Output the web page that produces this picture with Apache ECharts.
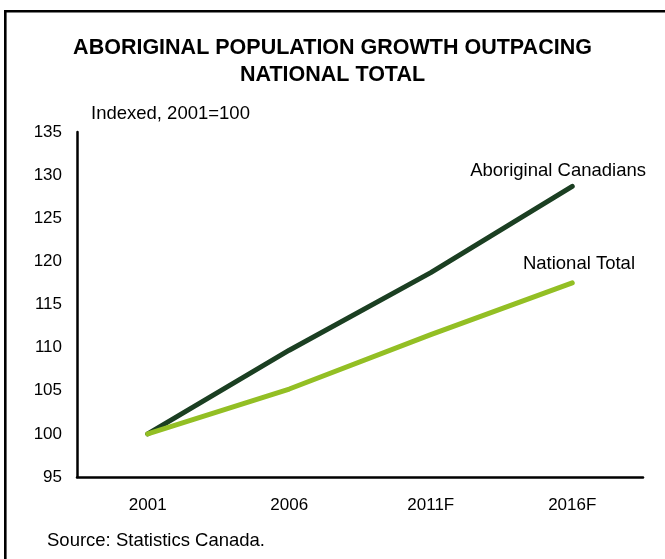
<!DOCTYPE html>
<html>
<head>
<meta charset="utf-8">
<script src="https://cdn.jsdelivr.net/npm/echarts@6/dist/echarts.min.js"></script>
<style>
html,body{margin:0;padding:0;background:#fff;}
#chart{width:665px;height:559px;}
</style>
</head>
<body>
<div id="chart"></div>
<script>
var categories = ['2001', '2006', '2011F', '2016F'];
var aboriginal = [100, 109.7, 118.7, 128.7];
var national = [100, 105.2, 111.5, 117.5];
var titleText = 'ABORIGINAL POPULATION GROWTH OUTPACING\nNATIONAL TOTAL';
var unitText = 'Indexed, 2001=100';
var sourceText = 'Source: Statistics Canada.';
var seriesNames = ['Aboriginal Canadians', 'National Total'];

var FONT = '"Liberation Sans", Arial, sans-serif';
var chart = echarts.init(document.getElementById('chart'));
chart.setOption({
  animation: false,
  backgroundColor: '#fff',
  title: {
    text: titleText,
    left: 'center', top: 30,
    textStyle: { fontFamily: FONT, fontWeight: 'bold', fontSize: 21.5, lineHeight: 27, color: '#000' }
  },
  grid: { left: 77, right: 22, top: 132, bottom: 82 },
  xAxis: {
    type: 'category', data: categories, boundaryGap: true,
    axisLine: { lineStyle: { color: '#000', width: 2.5 } },
    axisTick: { show: false },
    axisLabel: { color: '#000', fontFamily: FONT, fontSize: 17, margin: 20 },
    splitLine: { show: false }
  },
  yAxis: {
    type: 'value', min: 95, max: 135, interval: 5,
    axisLine: { show: true, lineStyle: { color: '#000', width: 2.5 } },
    axisTick: { show: false },
    axisLabel: { color: '#000', fontFamily: FONT, fontSize: 17, margin: 15 },
    splitLine: { show: false }
  },
  series: [
    { name: seriesNames[0], type: 'line', data: aboriginal, symbol: 'none',
      lineStyle: { color: '#1b3f22', width: 5, cap: 'round', join: 'round' } },
    { name: seriesNames[1], type: 'line', data: national, symbol: 'none',
      lineStyle: { color: '#93bf24', width: 5, cap: 'round', join: 'round' } }
  ],
  graphic: [
    { type: 'rect', shape: { x: 5.3, y: 11.3, width: 800, height: 800 },
      style: { fill: 'none', stroke: '#000', lineWidth: 2.6 }, silent: true },
    { type: 'text', x: 91, y: 114,
      style: { text: unitText, font: '18.5px ' + FONT, fill: '#000', textVerticalAlign: 'middle' } },
    { type: 'text', x: 47, y: 541,
      style: { text: sourceText, font: '18.5px ' + FONT, fill: '#000', textVerticalAlign: 'middle' } },
    { type: 'text', x: 646, y: 171,
      style: { text: seriesNames[0], font: '18.5px ' + FONT, fill: '#000', textAlign: 'right', textVerticalAlign: 'middle' } },
    { type: 'text', x: 635, y: 264,
      style: { text: seriesNames[1], font: '18.5px ' + FONT, fill: '#000', textAlign: 'right', textVerticalAlign: 'middle' } }
  ]
});
</script>
</body>
</html>
